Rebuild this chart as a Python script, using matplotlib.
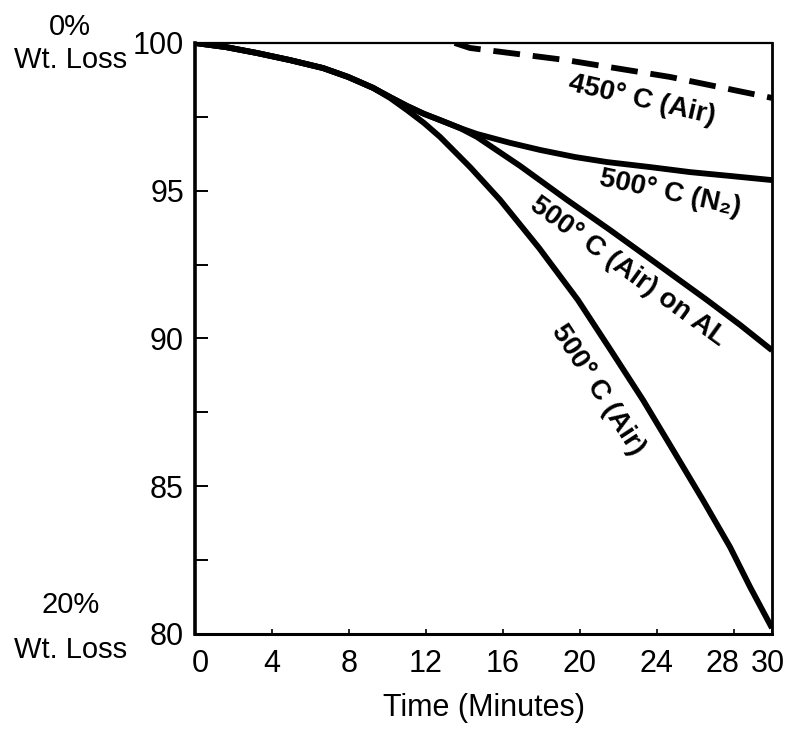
"""Thermogravimetric weight-loss curves, redrawn from the scanned figure."""
import matplotlib

matplotlib.use("Agg")
import matplotlib.pyplot as plt
import matplotlib.transforms as mtransforms

NARROW = ["Liberation Sans Narrow", "Liberation Sans", "DejaVu Sans"]
LABEL_FONT = ["Liberation Sans", "DejaVu Sans"]

# 500 C in air
t_air = [0, 1.61, 3.22, 4.94, 6.66, 7.96, 9.26, 10.14, 11.02, 11.91, 12.74, 14.3,
         15.86, 17.89, 19.91, 21.58, 23.29, 24.85, 26.41, 27.82, 28.86, 30]
w_air = [100, 99.86, 99.66, 99.42, 99.15, 98.85, 98.48, 98.14, 97.73, 97.29, 96.82, 95.8,
         94.69, 93.06, 91.3, 89.64, 87.92, 86.23, 84.53, 82.94, 81.59, 80.2]

# 500 C in nitrogen
t_n2 = [0, 1.61, 3.22, 4.94, 6.66, 7.96, 9.26, 10.14, 11.02, 11.91, 12.74, 13.78,
        14.66, 16.38, 17.94, 19.76, 21.42, 23.66, 25.74, 27.82, 30]
w_n2 = [100, 99.86, 99.66, 99.42, 99.15, 98.85, 98.48, 98.17, 97.87, 97.6, 97.39, 97.12,
        96.92, 96.62, 96.38, 96.14, 95.97, 95.8, 95.63, 95.5, 95.36]

# 500 C in air on AL
t_al = [0, 1.61, 3.22, 4.94, 6.66, 7.96, 9.26, 10.14, 11.02, 11.91, 12.74, 13.78,
        14.66, 16.9, 19.34, 21.58, 24.18, 26.62, 28.34, 30]
w_al = [100, 99.86, 99.66, 99.42, 99.15, 98.85, 98.48, 98.17, 97.87, 97.6, 97.39, 97.12,
        96.82, 95.84, 94.69, 93.67, 92.45, 91.3, 90.46, 89.6]

# 450 C in air (dashed)
t_450 = [13.5, 14.3, 19.3, 24.7, 30]
w_450 = [100, 99.83, 99.42, 98.85, 98.14]

x_ticks = [0, 4, 8, 12, 16, 20, 24, 28, 30]
y_ticks = [80, 85, 90, 95, 100]
y_minor = [82.5, 87.5, 92.5, 97.5]

# (text, x, y, rotation)
curve_labels = [
    ("450° C (Air)", 23.25, 98.07, -13),
    ("500° C (N₂)", 24.7, 94.92, -12),
    ("500° C (Air) on AL", 22.5, 92.25, -36),
    ("500° C (Air)", 20.96, 88.26, -57),
]

fig = plt.figure(figsize=(7.88, 7.32), dpi=100)
ax = fig.add_axes([0.2475, 0.1339, 0.7322, 0.8074])

lw = 4.2
for t, w in [(t_air, w_air), (t_n2, w_n2), (t_al, w_al)]:
    ax.plot(t, w, color="black", lw=lw, solid_capstyle="butt", solid_joinstyle="round")
ax.plot(t_450, w_450, color="black", lw=lw, ls=(0, (4.6, 2.2)), dash_capstyle="butt")

for text, x, y, rot in curve_labels:
    ax.text(x, y, text, rotation=rot, rotation_mode="anchor", ha="center", va="center",
            fontsize=20, fontweight="bold", family=LABEL_FONT)

ax.set_xlim(0, 30)
ax.set_ylim(80, 100)
ax.set_xticks(x_ticks)
ax.set_yticks(y_ticks)
ax.set_yticks(y_minor, minor=True)
ax.tick_params(axis="y", which="both", direction="in", length=9.5, width=1.4, pad=8)
ax.tick_params(axis="x", direction="in", length=3.5, width=1.2, pad=11)
for lab in ax.get_xticklabels() + ax.get_yticklabels():
    lab.set_family(NARROW)
    lab.set_fontsize(22)

# the hand-lettered labels near the ends sit a little off their ticks
xlabels = ax.get_xticklabels()
for lab, dx in [(xlabels[0], 4), (xlabels[-2], -8), (xlabels[-1], -3)]:
    lab.set_transform(lab.get_transform()
                      + mtransforms.ScaledTranslation(dx / 72, 0, fig.dpi_scale_trans))

ax.spines["left"].set_linewidth(2.6)
ax.spines["bottom"].set_linewidth(2.2)
ax.spines["top"].set_linewidth(1.6)
ax.spines["right"].set_linewidth(2.0)

ax.set_xlabel("Time (Minutes)", family=NARROW, fontsize=22, labelpad=10)

fig.text(0.089, 0.963, "0%", ha="center", va="center", family=NARROW, fontsize=21)
fig.text(0.089, 0.918, "Wt. Loss", ha="center", va="center", family=NARROW, fontsize=21)
fig.text(0.089, 0.173, "20%", ha="center", va="center", family=NARROW, fontsize=21)
fig.text(0.089, 0.112, "Wt. Loss", ha="center", va="center", family=NARROW, fontsize=21)

fig.savefig("out.png", dpi=100, facecolor="white")
